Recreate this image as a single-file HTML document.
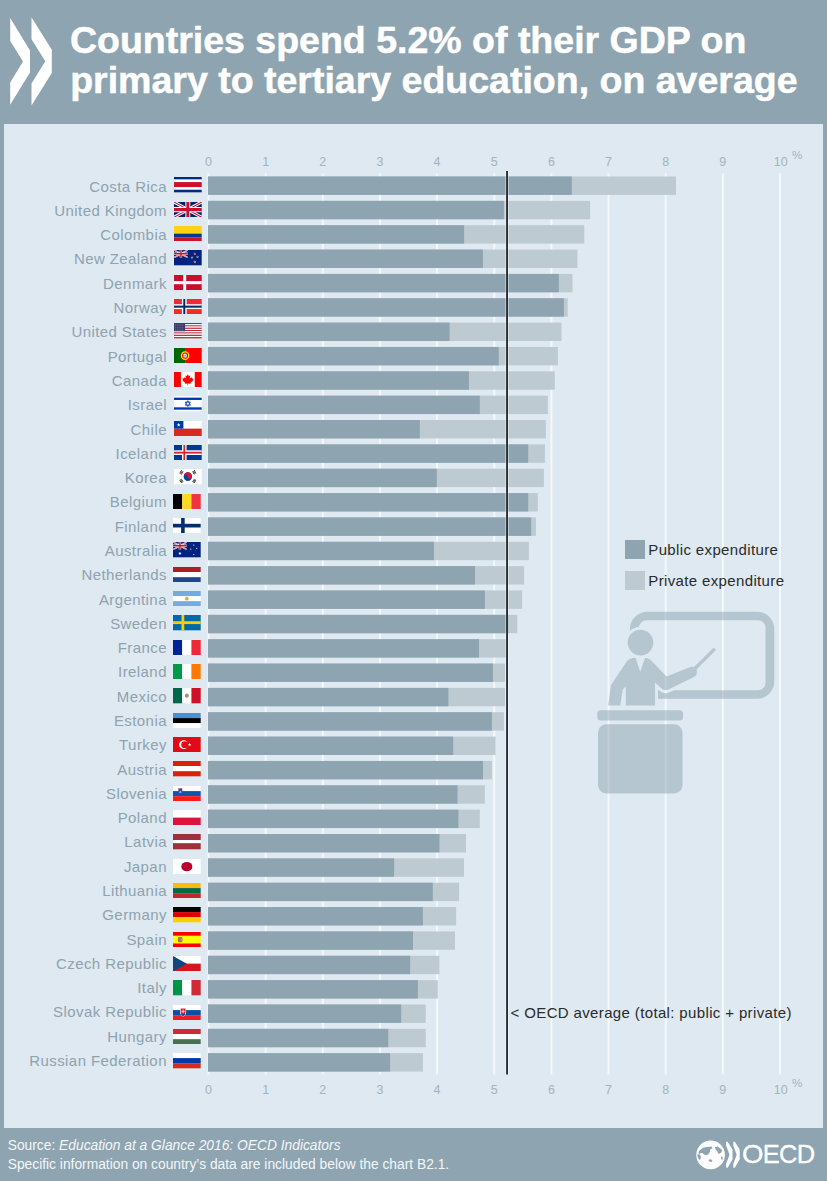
<!DOCTYPE html>
<html><head><meta charset="utf-8"><style>
*{margin:0;padding:0;box-sizing:border-box}
html,body{width:827px;height:1181px;overflow:hidden;background:#8ea4b1;font-family:"Liberation Sans",Arial,sans-serif}
#panel{position:absolute;left:4px;top:124.3px;width:818.5px;height:1003.3px;background:#dee9f1}
.l{position:absolute;right:660.1px;height:20px;line-height:20px;font-size:15px;letter-spacing:0.42px;color:#8fa2af;white-space:nowrap}
.f{position:absolute;left:174px;width:27.7px;height:15.3px}
.a{position:absolute;width:30px;text-align:center;font-size:12.5px;line-height:16px;color:#a2b3bf}
.t{position:absolute;left:69.5px;font-size:37.5px;font-weight:bold;color:#fff;white-space:nowrap;line-height:40px;-webkit-text-stroke:0.5px #fff}
.lg{position:absolute;left:624.8px;width:19.8px;height:19px}
.lt{position:absolute;left:648.3px;font-size:15px;letter-spacing:0.36px;color:#2b2b2b;white-space:nowrap;line-height:20px}
.ft{position:absolute;left:7.7px;font-size:13.8px;color:#f4f7f9;white-space:nowrap;line-height:18px}
</style></head><body>
<svg style="position:absolute;left:0;top:0" width="60" height="120"><path d="M10.2,18 L30,50.6 L30,72.6 L10.2,104.8 L10.2,82.4 L23,61.5 L10.2,40.9 Z M31.5,17.2 L51.8,49.8 L51.8,73 L31.5,105.6 L31.5,83.6 L45.3,61.2 L31.5,39.2 Z" fill="#fff"/></svg>
<div class="t" style="top:20.4px;left:69.9px">Countries spend 5.2% of their GDP on</div>
<div class="t" style="top:60.4px;left:70.2px">primary to tertiary education, on average</div>
<div id="panel"></div>
<svg style="position:absolute;left:0;top:0" width="827" height="1181"><g fill="#f5f9fb"><rect x="207.55" y="173.3" width="1.9" height="901.2"/><rect x="264.70" y="173.3" width="1.9" height="901.2"/><rect x="321.85" y="173.3" width="1.9" height="901.2"/><rect x="379.00" y="173.3" width="1.9" height="901.2"/><rect x="436.15" y="173.3" width="1.9" height="901.2"/><rect x="493.30" y="173.3" width="1.9" height="901.2"/><rect x="550.45" y="173.3" width="1.9" height="901.2"/><rect x="607.60" y="173.3" width="1.9" height="901.2"/><rect x="664.75" y="173.3" width="1.9" height="901.2"/><rect x="721.90" y="173.3" width="1.9" height="901.2"/><rect x="779.05" y="173.3" width="1.9" height="901.2"/></g></svg>
<svg style="position:absolute;left:590px;top:605px;opacity:0.5" width="200" height="200" viewBox="0 0 200 200">
 <defs>
  <mask id="mk"><rect width="200" height="200" fill="#fff"/>
   <g fill="#000" stroke="#000" stroke-width="6" stroke-linejoin="round"><circle cx="50.5" cy="37.6" r="12.8"/><use href="#body"/><rect x="30" y="40" width="20" height="25"/></g>
  </mask>
  <path id="body" d="M18.1,100.4 L21,80 L36.4,57.1 Q39,53.3 44.2,52.8 L45.6,53 L50.2,66.7 L55,53 L56.8,53 Q59.5,53.3 61.6,56.1 L76.6,71.6 L100.4,62 Q105.5,60.5 106.8,65.5 Q107.5,70.5 103.5,72.3 L78.5,84.6 Q75,86.2 72.2,84.1 L65,77.4 L65,100.4 L35.8,100.4 L35.8,81.2 L32.8,84.6 L30.2,100.4 Z"/>
 </defs>
 <g fill="#8ea4b1">
  <path mask="url(#mk)" fill-rule="evenodd" d="M57,6.8 L167,6.8 A17.3,17.3 0 0 1 184.3,24.1 L184.3,76.5 A17.3,17.3 0 0 1 167,93.8 L57,93.8 A17.3,17.3 0 0 1 39.9,76.5 L39.9,24.1 A17.3,17.3 0 0 1 57,6.8 Z M57,15.2 L168,15.2 A7.5,7.5 0 0 1 175.5,22.7 L175.5,77.8 A7.5,7.5 0 0 1 168,85.3 L57,85.3 A8.5,8.5 0 0 1 48.5,76.8 L48.5,23.7 A8.5,8.5 0 0 1 57,15.2 Z"/>
  <circle cx="50.5" cy="37.6" r="12.8"/>
  <use href="#body"/>
  <path d="M104,64.5 L123.8,44.7" stroke="#8ea4b1" stroke-width="3.4" stroke-linecap="round"/>
  <rect x="7.3" y="105.2" width="85.8" height="10.4" rx="3.5"/>
  <rect x="8" y="119.2" width="84.6" height="69.4" rx="8.5"/>
 </g>
</svg>
<svg style="position:absolute;left:0;top:0" width="827" height="1181"><rect x="208" y="176.50" width="468.00" height="18.4" fill="#bdcad1"/><rect x="208" y="176.50" width="363.80" height="18.4" fill="#8ea4b1"/><rect x="208" y="200.85" width="382.10" height="18.4" fill="#bdcad1"/><rect x="208" y="200.85" width="295.90" height="18.4" fill="#8ea4b1"/><rect x="208" y="225.20" width="376.30" height="18.4" fill="#bdcad1"/><rect x="208" y="225.20" width="256.10" height="18.4" fill="#8ea4b1"/><rect x="208" y="249.56" width="369.40" height="18.4" fill="#bdcad1"/><rect x="208" y="249.56" width="274.90" height="18.4" fill="#8ea4b1"/><rect x="208" y="273.91" width="364.50" height="18.4" fill="#bdcad1"/><rect x="208" y="273.91" width="350.80" height="18.4" fill="#8ea4b1"/><rect x="208" y="298.26" width="359.70" height="18.4" fill="#bdcad1"/><rect x="208" y="298.26" width="355.90" height="18.4" fill="#8ea4b1"/><rect x="208" y="322.61" width="353.50" height="18.4" fill="#bdcad1"/><rect x="208" y="322.61" width="241.60" height="18.4" fill="#8ea4b1"/><rect x="208" y="346.96" width="349.90" height="18.4" fill="#bdcad1"/><rect x="208" y="346.96" width="290.70" height="18.4" fill="#8ea4b1"/><rect x="208" y="371.32" width="346.80" height="18.4" fill="#bdcad1"/><rect x="208" y="371.32" width="260.90" height="18.4" fill="#8ea4b1"/><rect x="208" y="395.67" width="339.80" height="18.4" fill="#bdcad1"/><rect x="208" y="395.67" width="271.80" height="18.4" fill="#8ea4b1"/><rect x="208" y="420.02" width="337.80" height="18.4" fill="#bdcad1"/><rect x="208" y="420.02" width="211.80" height="18.4" fill="#8ea4b1"/><rect x="208" y="444.37" width="336.90" height="18.4" fill="#bdcad1"/><rect x="208" y="444.37" width="320.20" height="18.4" fill="#8ea4b1"/><rect x="208" y="468.72" width="335.90" height="18.4" fill="#bdcad1"/><rect x="208" y="468.72" width="228.80" height="18.4" fill="#8ea4b1"/><rect x="208" y="493.08" width="329.80" height="18.4" fill="#bdcad1"/><rect x="208" y="493.08" width="320.20" height="18.4" fill="#8ea4b1"/><rect x="208" y="517.43" width="327.90" height="18.4" fill="#bdcad1"/><rect x="208" y="517.43" width="323.10" height="18.4" fill="#8ea4b1"/><rect x="208" y="541.78" width="320.90" height="18.4" fill="#bdcad1"/><rect x="208" y="541.78" width="225.90" height="18.4" fill="#8ea4b1"/><rect x="208" y="566.13" width="316.10" height="18.4" fill="#bdcad1"/><rect x="208" y="566.13" width="267.00" height="18.4" fill="#8ea4b1"/><rect x="208" y="590.48" width="314.10" height="18.4" fill="#bdcad1"/><rect x="208" y="590.48" width="276.90" height="18.4" fill="#8ea4b1"/><rect x="208" y="614.84" width="309.30" height="18.4" fill="#bdcad1"/><rect x="208" y="614.84" width="301.00" height="18.4" fill="#8ea4b1"/><rect x="208" y="639.19" width="299.00" height="18.4" fill="#bdcad1"/><rect x="208" y="639.19" width="271.00" height="18.4" fill="#8ea4b1"/><rect x="208" y="663.54" width="297.10" height="18.4" fill="#bdcad1"/><rect x="208" y="663.54" width="284.90" height="18.4" fill="#8ea4b1"/><rect x="208" y="687.89" width="297.10" height="18.4" fill="#bdcad1"/><rect x="208" y="687.89" width="240.40" height="18.4" fill="#8ea4b1"/><rect x="208" y="712.24" width="295.90" height="18.4" fill="#bdcad1"/><rect x="208" y="712.24" width="283.90" height="18.4" fill="#8ea4b1"/><rect x="208" y="736.60" width="287.50" height="18.4" fill="#bdcad1"/><rect x="208" y="736.60" width="245.20" height="18.4" fill="#8ea4b1"/><rect x="208" y="760.95" width="283.90" height="18.4" fill="#bdcad1"/><rect x="208" y="760.95" width="275.00" height="18.4" fill="#8ea4b1"/><rect x="208" y="785.30" width="276.80" height="18.4" fill="#bdcad1"/><rect x="208" y="785.30" width="249.50" height="18.4" fill="#8ea4b1"/><rect x="208" y="809.65" width="271.80" height="18.4" fill="#bdcad1"/><rect x="208" y="809.65" width="250.40" height="18.4" fill="#8ea4b1"/><rect x="208" y="834.00" width="258.00" height="18.4" fill="#bdcad1"/><rect x="208" y="834.00" width="231.50" height="18.4" fill="#8ea4b1"/><rect x="208" y="858.36" width="256.00" height="18.4" fill="#bdcad1"/><rect x="208" y="858.36" width="186.10" height="18.4" fill="#8ea4b1"/><rect x="208" y="882.71" width="251.10" height="18.4" fill="#bdcad1"/><rect x="208" y="882.71" width="224.80" height="18.4" fill="#8ea4b1"/><rect x="208" y="907.06" width="248.10" height="18.4" fill="#bdcad1"/><rect x="208" y="907.06" width="214.90" height="18.4" fill="#8ea4b1"/><rect x="208" y="931.41" width="247.00" height="18.4" fill="#bdcad1"/><rect x="208" y="931.41" width="205.00" height="18.4" fill="#8ea4b1"/><rect x="208" y="955.76" width="231.40" height="18.4" fill="#bdcad1"/><rect x="208" y="955.76" width="202.10" height="18.4" fill="#8ea4b1"/><rect x="208" y="980.12" width="229.80" height="18.4" fill="#bdcad1"/><rect x="208" y="980.12" width="209.90" height="18.4" fill="#8ea4b1"/><rect x="208" y="1004.47" width="217.70" height="18.4" fill="#bdcad1"/><rect x="208" y="1004.47" width="193.20" height="18.4" fill="#8ea4b1"/><rect x="208" y="1028.82" width="217.70" height="18.4" fill="#bdcad1"/><rect x="208" y="1028.82" width="180.30" height="18.4" fill="#8ea4b1"/><rect x="208" y="1053.17" width="214.90" height="18.4" fill="#bdcad1"/><rect x="208" y="1053.17" width="182.10" height="18.4" fill="#8ea4b1"/><rect x="505.3" y="171" width="3.5" height="903.5" fill="#fff" opacity="0.5"/><rect x="506.1" y="171" width="1.9" height="903.5" fill="#2a2e31"/></svg>
<div class="a" style="left:193.50px;top:154px">0</div><div class="a" style="left:250.65px;top:154px">1</div><div class="a" style="left:307.80px;top:154px">2</div><div class="a" style="left:364.95px;top:154px">3</div><div class="a" style="left:422.10px;top:154px">4</div><div class="a" style="left:479.25px;top:154px">5</div><div class="a" style="left:536.40px;top:154px">6</div><div class="a" style="left:593.55px;top:154px">7</div><div class="a" style="left:650.70px;top:154px">8</div><div class="a" style="left:707.85px;top:154px">9</div><div class="a" style="left:765.80px;top:154px">10</div>
<div class="a" style="left:193.50px;top:1082px">0</div><div class="a" style="left:250.65px;top:1082px">1</div><div class="a" style="left:307.80px;top:1082px">2</div><div class="a" style="left:364.95px;top:1082px">3</div><div class="a" style="left:422.10px;top:1082px">4</div><div class="a" style="left:479.25px;top:1082px">5</div><div class="a" style="left:536.40px;top:1082px">6</div><div class="a" style="left:593.55px;top:1082px">7</div><div class="a" style="left:650.70px;top:1082px">8</div><div class="a" style="left:707.85px;top:1082px">9</div><div class="a" style="left:765.80px;top:1082px">10</div>
<div class="a" style="left:792px;top:147px;width:auto;text-align:left;font-size:11.5px">%</div>
<div class="a" style="left:792px;top:1074.5px;width:auto;text-align:left;font-size:11.5px">%</div>
<div class="l" style="top:176.60px">Costa Rica</div><div class="l" style="top:200.89px">United Kingdom</div><div class="l" style="top:225.18px">Colombia</div><div class="l" style="top:249.47px">New Zealand</div><div class="l" style="top:273.76px">Denmark</div><div class="l" style="top:298.06px">Norway</div><div class="l" style="top:322.35px">United States</div><div class="l" style="top:346.64px">Portugal</div><div class="l" style="top:370.93px">Canada</div><div class="l" style="top:395.22px">Israel</div><div class="l" style="top:419.51px">Chile</div><div class="l" style="top:443.80px">Iceland</div><div class="l" style="top:468.09px">Korea</div><div class="l" style="top:492.38px">Belgium</div><div class="l" style="top:516.67px">Finland</div><div class="l" style="top:540.97px">Australia</div><div class="l" style="top:565.26px">Netherlands</div><div class="l" style="top:589.55px">Argentina</div><div class="l" style="top:613.84px">Sweden</div><div class="l" style="top:638.13px">France</div><div class="l" style="top:662.42px">Ireland</div><div class="l" style="top:686.71px">Mexico</div><div class="l" style="top:711.00px">Estonia</div><div class="l" style="top:735.29px">Turkey</div><div class="l" style="top:759.58px">Austria</div><div class="l" style="top:783.88px">Slovenia</div><div class="l" style="top:808.17px">Poland</div><div class="l" style="top:832.46px">Latvia</div><div class="l" style="top:856.75px">Japan</div><div class="l" style="top:881.04px">Lithuania</div><div class="l" style="top:905.33px">Germany</div><div class="l" style="top:929.62px">Spain</div><div class="l" style="top:953.91px">Czech Republic</div><div class="l" style="top:978.20px">Italy</div><div class="l" style="top:1002.49px">Slovak Republic</div><div class="l" style="top:1026.79px">Hungary</div><div class="l" style="top:1051.08px">Russian Federation</div>
<svg class="f" style="top:177.45px;left:174.2px" viewBox="0 0 28 15" preserveAspectRatio="none"><rect x="0" y="0.000" width="28" height="2.520" fill="#002B7F"/><rect x="0" y="2.500" width="28" height="2.520" fill="#fff"/><rect x="0" y="5.000" width="28" height="5.020" fill="#CE1126"/><rect x="0" y="10.000" width="28" height="2.520" fill="#fff"/><rect x="0" y="12.500" width="28" height="2.520" fill="#002B7F"/></svg><svg class="f" style="top:201.78px;left:174.2px" viewBox="0 0 28 15" preserveAspectRatio="none"><rect width="28" height="15" fill="#012169"/><path d="M0,0L28,15M28,0L0,15" stroke="#fff" stroke-width="3.00"/><path d="M0,0L28,15M28,0L0,15" stroke="#C8102E" stroke-width="1.05"/><path d="M14.0,0V15M0,7.5H28" stroke="#fff" stroke-width="4.95"/><path d="M14.0,0V15M0,7.5H28" stroke="#C8102E" stroke-width="3.00"/></svg><svg class="f" style="top:226.11px;left:174.2px" viewBox="0 0 28 15" preserveAspectRatio="none"><rect x="0" y="0.000" width="28" height="7.520" fill="#FCD116"/><rect x="0" y="7.500" width="28" height="3.770" fill="#003893"/><rect x="0" y="11.250" width="28" height="3.770" fill="#CE1126"/></svg><svg class="f" style="top:250.44px;left:174.2px" viewBox="0 0 28 15" preserveAspectRatio="none"><rect width="28" height="15" fill="#00247D"/><svg x="0" y="0" width="14" height="7.5" viewBox="0 0 14 7.5" overflow="hidden"><rect width="14" height="7.5" fill="#00247D"/><path d="M0,0L14,7.5M14,0L0,7.5" stroke="#fff" stroke-width="1.50"/><path d="M0,0L14,7.5M14,0L0,7.5" stroke="#C8102E" stroke-width="0.53"/><path d="M7.0,0V7.5M0,3.75H14" stroke="#fff" stroke-width="2.48"/><path d="M7.0,0V7.5M0,3.75H14" stroke="#C8102E" stroke-width="1.50"/></svg><polygon points="21.00,2.30 21.35,3.31 22.43,3.34 21.57,3.99 21.88,5.01 21.00,4.40 20.12,5.01 20.43,3.99 19.57,3.34 20.65,3.31" fill="#fff"/><polygon points="18.30,5.80 18.65,6.81 19.73,6.84 18.87,7.49 19.18,8.51 18.30,7.90 17.42,8.51 17.73,7.49 16.87,6.84 17.95,6.81" fill="#fff"/><polygon points="23.80,5.30 24.15,6.31 25.23,6.34 24.37,6.99 24.68,8.01 23.80,7.40 22.92,8.01 23.23,6.99 22.37,6.34 23.45,6.31" fill="#fff"/><polygon points="21.00,10.20 21.38,11.28 22.52,11.31 21.61,12.00 21.94,13.09 21.00,12.44 20.06,13.09 20.39,12.00 19.48,11.31 20.62,11.28" fill="#fff"/><polygon points="21.00,2.80 21.24,3.48 21.95,3.49 21.38,3.92 21.59,4.61 21.00,4.20 20.41,4.61 20.62,3.92 20.05,3.49 20.76,3.48" fill="#CC142B"/><polygon points="18.30,6.30 18.54,6.98 19.25,6.99 18.68,7.42 18.89,8.11 18.30,7.70 17.71,8.11 17.92,7.42 17.35,6.99 18.06,6.98" fill="#CC142B"/><polygon points="23.80,5.80 24.04,6.48 24.75,6.49 24.18,6.92 24.39,7.61 23.80,7.20 23.21,7.61 23.42,6.92 22.85,6.49 23.56,6.48" fill="#CC142B"/><polygon points="21.00,10.70 21.26,11.44 22.05,11.46 21.42,11.94 21.65,12.69 21.00,12.24 20.35,12.69 20.58,11.94 19.95,11.46 20.74,11.44" fill="#CC142B"/></svg><svg class="f" style="top:274.77px;left:174.2px" viewBox="0 0 28 15" preserveAspectRatio="none"><rect width="28" height="15" fill="#C8102E"/><rect x="9.3" y="0" width="3" height="15" fill="#fff"/><rect x="0" y="6.0" width="28" height="3" fill="#fff"/></svg><svg class="f" style="top:299.10px;left:174.2px" viewBox="0 0 28 15" preserveAspectRatio="none"><rect width="28" height="15" fill="#EF2B2D"/><rect x="8.0" y="0" width="4.8" height="15" fill="#fff"/><rect x="0" y="5.1" width="28" height="4.8" fill="#fff"/><rect x="9.4" y="0" width="2" height="15" fill="#002868"/><rect x="0" y="6.5" width="28" height="2" fill="#002868"/></svg><svg class="f" style="top:323.42px;left:174.2px" viewBox="0 0 28 15" preserveAspectRatio="none"><rect x="0" y="0.000" width="28" height="1.174" fill="#B22234"/><rect x="0" y="1.154" width="28" height="1.174" fill="#fff"/><rect x="0" y="2.308" width="28" height="1.174" fill="#B22234"/><rect x="0" y="3.462" width="28" height="1.174" fill="#fff"/><rect x="0" y="4.615" width="28" height="1.174" fill="#B22234"/><rect x="0" y="5.769" width="28" height="1.174" fill="#fff"/><rect x="0" y="6.923" width="28" height="1.174" fill="#B22234"/><rect x="0" y="8.077" width="28" height="1.174" fill="#fff"/><rect x="0" y="9.231" width="28" height="1.174" fill="#B22234"/><rect x="0" y="10.385" width="28" height="1.174" fill="#fff"/><rect x="0" y="11.538" width="28" height="1.174" fill="#B22234"/><rect x="0" y="12.692" width="28" height="1.174" fill="#fff"/><rect x="0" y="13.846" width="28" height="1.174" fill="#B22234"/><rect x="0" y="0" width="11.2" height="8.08" fill="#3C3B6E"/><rect x="1.00" y="0.90" width="0.6" height="0.5" fill="#fff" opacity="0.6"/><rect x="2.90" y="0.90" width="0.6" height="0.5" fill="#fff" opacity="0.6"/><rect x="4.80" y="0.90" width="0.6" height="0.5" fill="#fff" opacity="0.6"/><rect x="6.70" y="0.90" width="0.6" height="0.5" fill="#fff" opacity="0.6"/><rect x="8.60" y="0.90" width="0.6" height="0.5" fill="#fff" opacity="0.6"/><rect x="1.00" y="2.50" width="0.6" height="0.5" fill="#fff" opacity="0.6"/><rect x="2.90" y="2.50" width="0.6" height="0.5" fill="#fff" opacity="0.6"/><rect x="4.80" y="2.50" width="0.6" height="0.5" fill="#fff" opacity="0.6"/><rect x="6.70" y="2.50" width="0.6" height="0.5" fill="#fff" opacity="0.6"/><rect x="8.60" y="2.50" width="0.6" height="0.5" fill="#fff" opacity="0.6"/><rect x="1.00" y="4.10" width="0.6" height="0.5" fill="#fff" opacity="0.6"/><rect x="2.90" y="4.10" width="0.6" height="0.5" fill="#fff" opacity="0.6"/><rect x="4.80" y="4.10" width="0.6" height="0.5" fill="#fff" opacity="0.6"/><rect x="6.70" y="4.10" width="0.6" height="0.5" fill="#fff" opacity="0.6"/><rect x="8.60" y="4.10" width="0.6" height="0.5" fill="#fff" opacity="0.6"/><rect x="1.00" y="5.70" width="0.6" height="0.5" fill="#fff" opacity="0.6"/><rect x="2.90" y="5.70" width="0.6" height="0.5" fill="#fff" opacity="0.6"/><rect x="4.80" y="5.70" width="0.6" height="0.5" fill="#fff" opacity="0.6"/><rect x="6.70" y="5.70" width="0.6" height="0.5" fill="#fff" opacity="0.6"/><rect x="8.60" y="5.70" width="0.6" height="0.5" fill="#fff" opacity="0.6"/><rect x="1.00" y="7.30" width="0.6" height="0.5" fill="#fff" opacity="0.6"/><rect x="2.90" y="7.30" width="0.6" height="0.5" fill="#fff" opacity="0.6"/><rect x="4.80" y="7.30" width="0.6" height="0.5" fill="#fff" opacity="0.6"/><rect x="6.70" y="7.30" width="0.6" height="0.5" fill="#fff" opacity="0.6"/><rect x="8.60" y="7.30" width="0.6" height="0.5" fill="#fff" opacity="0.6"/></svg><svg class="f" style="top:347.75px;left:174.2px" viewBox="0 0 28 15" preserveAspectRatio="none"><rect width="11.2" height="15" fill="#006600"/><rect x="11.2" width="16.8" height="15" fill="#FF0000"/><circle cx="11.2" cy="7.5" r="4.3" fill="#FFE000"/><circle cx="11.2" cy="7.5" r="3" fill="#FF0000"/><rect x="9.6" y="5.6" width="3.2" height="3.8" rx="0.9" fill="#fff"/><circle cx="11.2" cy="7.5" r="1.1" fill="#5fb4e6"/></svg><svg class="f" style="top:372.08px;left:174.2px" viewBox="0 0 28 15" preserveAspectRatio="none"><rect width="28" height="15" fill="#fff"/><rect width="7" height="15" fill="#FF0000"/><rect x="21" width="7" height="15" fill="#FF0000"/><path d="M14,2.2 L15,4 L16.4,3.4 L16,6.4 L17.8,5.2 L18.2,6.4 L19.6,6.2 L18.8,8 L19.4,8.4 L16.8,10.6 L17,11.6 L14.3,11.2 L14.3,13 L13.7,13 L13.7,11.2 L11,11.6 L11.2,10.6 L8.6,8.4 L9.2,8 L8.4,6.2 L9.8,6.4 L10.2,5.2 L12,6.4 L11.6,3.4 L13,4 Z" fill="#FF0000"/></svg><svg class="f" style="top:396.41px;left:174.2px" viewBox="0 0 28 15" preserveAspectRatio="none"><rect width="28" height="15" fill="#fff"/><rect y="1.6" width="28" height="2.3" fill="#0038B8"/><rect y="11.1" width="28" height="2.3" fill="#0038B8"/><path d="M14,4.6 L16.6,9 L11.4,9 Z M14,10.4 L11.4,6 L16.6,6 Z" fill="none" stroke="#0038B8" stroke-width="0.8"/></svg><svg class="f" style="top:420.74px;left:174.2px" viewBox="0 0 28 15" preserveAspectRatio="none"><rect width="28" height="7.5" fill="#fff"/><rect y="7.5" width="28" height="7.5" fill="#D52B1E"/><rect width="9.5" height="7.5" fill="#0039A6"/><polygon points="4.75,1.75 5.22,3.10 6.65,3.13 5.51,4.00 5.93,5.37 4.75,4.55 3.57,5.37 3.99,4.00 2.85,3.13 4.28,3.10" fill="#fff"/></svg><svg class="f" style="top:445.07px;left:174.2px" viewBox="0 0 28 15" preserveAspectRatio="none"><rect width="28" height="15" fill="#003897"/><rect x="8.100000000000001" y="0" width="4.6" height="15" fill="#fff"/><rect x="0" y="5.2" width="28" height="4.6" fill="#fff"/><rect x="9.5" y="0" width="1.8" height="15" fill="#DC1E35"/><rect x="0" y="6.6" width="28" height="1.8" fill="#DC1E35"/></svg><svg class="f" style="top:469.40px;left:174.2px" viewBox="0 0 28 15" preserveAspectRatio="none"><rect width="28" height="15" fill="#fff"/><circle cx="14" cy="7.5" r="4.2" fill="#0047A0"/><path d="M9.8,7.5 A4.2,4.2 0 0 1 18.2,7.5 A2.1,2.1 0 0 1 14,7.5 A2.1,2.1 0 0 0 9.8,7.5Z" fill="#E0102E"/><g transform="translate(7.5,3.3) rotate(-57)"><rect x="-1.8" y="-1.3" width="3.6" height="0.6" fill="#000"/><rect x="-1.8" y="-0.3" width="3.6" height="0.6" fill="#000"/><rect x="-1.8" y="0.7" width="3.6" height="0.6" fill="#000"/></g><g transform="translate(20.5,3.3) rotate(57)"><rect x="-1.8" y="-1.3" width="3.6" height="0.6" fill="#000"/><rect x="-1.8" y="-0.3" width="3.6" height="0.6" fill="#000"/><rect x="-1.8" y="0.7" width="3.6" height="0.6" fill="#000"/></g><g transform="translate(7.5,11.7) rotate(57)"><rect x="-1.8" y="-1.3" width="3.6" height="0.6" fill="#000"/><rect x="-1.8" y="-0.3" width="3.6" height="0.6" fill="#000"/><rect x="-1.8" y="0.7" width="3.6" height="0.6" fill="#000"/></g><g transform="translate(20.5,11.7) rotate(-57)"><rect x="-1.8" y="-1.3" width="3.6" height="0.6" fill="#000"/><rect x="-1.8" y="-0.3" width="3.6" height="0.6" fill="#000"/><rect x="-1.8" y="0.7" width="3.6" height="0.6" fill="#000"/></g></svg><svg class="f" style="top:493.73px;left:173.4px" viewBox="0 0 28 15" preserveAspectRatio="none"><rect x="0.000" y="0" width="9.353" height="15" fill="#000"/><rect x="9.333" y="0" width="9.353" height="15" fill="#FDDA24"/><rect x="18.667" y="0" width="9.353" height="15" fill="#EF3340"/></svg><svg class="f" style="top:518.06px;left:173.4px" viewBox="0 0 28 15" preserveAspectRatio="none"><rect width="28" height="15" fill="#fff"/><rect x="8.2" y="0" width="3.6" height="15" fill="#002F6C"/><rect x="0" y="5.7" width="28" height="3.6" fill="#002F6C"/></svg><svg class="f" style="top:542.38px;left:173.4px" viewBox="0 0 28 15" preserveAspectRatio="none"><rect width="28" height="15" fill="#00247D"/><svg x="0" y="0" width="14" height="7.5" viewBox="0 0 14 7.5" overflow="hidden"><rect width="14" height="7.5" fill="#00247D"/><path d="M0,0L14,7.5M14,0L0,7.5" stroke="#fff" stroke-width="1.50"/><path d="M0,0L14,7.5M14,0L0,7.5" stroke="#C8102E" stroke-width="0.53"/><path d="M7.0,0V7.5M0,3.75H14" stroke="#fff" stroke-width="2.48"/><path d="M7.0,0V7.5M0,3.75H14" stroke="#C8102E" stroke-width="1.50"/></svg><polygon points="7.00,9.70 7.35,10.58 8.25,10.30 7.78,11.12 8.56,11.66 7.63,11.80 7.69,12.74 7.00,12.10 6.31,12.74 6.37,11.80 5.44,11.66 6.22,11.12 5.75,10.30 6.65,10.58" fill="#fff"/><polygon points="21.00,2.10 21.16,2.68 21.70,2.44 21.35,2.92 21.88,3.20 21.28,3.22 21.39,3.81 21.00,3.36 20.61,3.81 20.72,3.22 20.12,3.20 20.65,2.92 20.30,2.44 20.84,2.68" fill="#fff"/><polygon points="18.00,6.10 18.16,6.68 18.70,6.44 18.35,6.92 18.88,7.20 18.28,7.22 18.39,7.81 18.00,7.36 17.61,7.81 17.72,7.22 17.12,7.20 17.65,6.92 17.30,6.44 17.84,6.68" fill="#fff"/><polygon points="24.00,5.30 24.16,5.88 24.70,5.64 24.35,6.12 24.88,6.40 24.28,6.42 24.39,7.01 24.00,6.56 23.61,7.01 23.72,6.42 23.12,6.40 23.65,6.12 23.30,5.64 23.84,5.88" fill="#fff"/><polygon points="21.00,11.40 21.16,11.98 21.70,11.74 21.35,12.22 21.88,12.50 21.28,12.52 21.39,13.11 21.00,12.66 20.61,13.11 20.72,12.52 20.12,12.50 20.65,12.22 20.30,11.74 20.84,11.98" fill="#fff"/><polygon points="22.50,8.00 22.62,8.34 22.98,8.35 22.69,8.56 22.79,8.90 22.50,8.70 22.21,8.90 22.31,8.56 22.02,8.35 22.38,8.34" fill="#fff"/></svg><svg class="f" style="top:566.71px;left:173.4px" viewBox="0 0 28 15" preserveAspectRatio="none"><rect x="0" y="0.000" width="28" height="5.020" fill="#AE1C28"/><rect x="0" y="5.000" width="28" height="5.020" fill="#fff"/><rect x="0" y="10.000" width="28" height="5.020" fill="#21468B"/></svg><svg class="f" style="top:591.04px;left:173.4px" viewBox="0 0 28 15" preserveAspectRatio="none"><rect x="0" y="0.000" width="28" height="5.020" fill="#74ACDF"/><rect x="0" y="5.000" width="28" height="5.020" fill="#fff"/><rect x="0" y="10.000" width="28" height="5.020" fill="#74ACDF"/><circle cx="14" cy="7.5" r="1.6" fill="#F6B40E" stroke="#85340A" stroke-width="0.2"/></svg><svg class="f" style="top:615.37px;left:173.4px" viewBox="0 0 28 15" preserveAspectRatio="none"><rect width="28" height="15" fill="#006AA7"/><rect x="8.6" y="0" width="2.8" height="15" fill="#FECC00"/><rect x="0" y="6.1" width="28" height="2.8" fill="#FECC00"/></svg><svg class="f" style="top:639.70px;left:173.4px" viewBox="0 0 28 15" preserveAspectRatio="none"><rect x="0.000" y="0" width="9.353" height="15" fill="#002395"/><rect x="9.333" y="0" width="9.353" height="15" fill="#fff"/><rect x="18.667" y="0" width="9.353" height="15" fill="#ED2939"/></svg><svg class="f" style="top:664.03px;left:173.4px" viewBox="0 0 28 15" preserveAspectRatio="none"><rect x="0.000" y="0" width="9.353" height="15" fill="#009A49"/><rect x="9.333" y="0" width="9.353" height="15" fill="#fff"/><rect x="18.667" y="0" width="9.353" height="15" fill="#FF7900"/></svg><svg class="f" style="top:688.36px;left:173.4px" viewBox="0 0 28 15" preserveAspectRatio="none"><rect x="0.000" y="0" width="9.353" height="15" fill="#006847"/><rect x="9.333" y="0" width="9.353" height="15" fill="#fff"/><rect x="18.667" y="0" width="9.353" height="15" fill="#CE1126"/><circle cx="14" cy="7.5" r="2" fill="#8c6a3c" opacity="0.75"/></svg><svg class="f" style="top:712.69px;left:173.4px" viewBox="0 0 28 15" preserveAspectRatio="none"><rect x="0" y="0.000" width="28" height="5.020" fill="#4891D9"/><rect x="0" y="5.000" width="28" height="5.020" fill="#000"/><rect x="0" y="10.000" width="28" height="5.020" fill="#fff"/></svg><svg class="f" style="top:737.02px;left:173.4px" viewBox="0 0 28 15" preserveAspectRatio="none"><rect width="28" height="15" fill="#E30A17"/><ellipse cx="10.8" cy="7.5" rx="4.6" ry="4.2" fill="#fff"/><ellipse cx="12" cy="7.5" rx="3.7" ry="3.4" fill="#E30A17"/><polygon points="16.80,5.70 17.22,6.92 18.51,6.94 17.48,7.72 17.86,8.96 16.80,8.22 15.74,8.96 16.12,7.72 15.09,6.94 16.38,6.92" fill="#fff"/></svg><svg class="f" style="top:761.35px;left:173.4px" viewBox="0 0 28 15" preserveAspectRatio="none"><rect x="0" y="0.000" width="28" height="5.020" fill="#DA2107"/><rect x="0" y="5.000" width="28" height="5.020" fill="#fff"/><rect x="0" y="10.000" width="28" height="5.020" fill="#DA2107"/></svg><svg class="f" style="top:785.67px;left:173.4px" viewBox="0 0 28 15" preserveAspectRatio="none"><rect x="0" y="0.000" width="28" height="5.020" fill="#fff"/><rect x="0" y="5.000" width="28" height="5.020" fill="#0B57B0"/><rect x="0" y="10.000" width="28" height="5.020" fill="#FF1A1A"/><path d="M5.6,2.5 h3.6 v3.2 q0,2 -1.8,2.8 q-1.8,-0.8 -1.8,-2.8z" fill="#005CE5" stroke="#FF0000" stroke-width="0.3"/><path d="M6.2,6.4 l1.2,-1.6 l1.2,1.6z" fill="#fff"/></svg><svg class="f" style="top:810.00px;left:173.4px" viewBox="0 0 28 15" preserveAspectRatio="none"><rect x="0" y="0.000" width="28" height="7.520" fill="#fff"/><rect x="0" y="7.500" width="28" height="7.520" fill="#DC143C"/></svg><svg class="f" style="top:834.33px;left:173.4px" viewBox="0 0 28 15" preserveAspectRatio="none"><rect x="0" y="0.000" width="28" height="6.020" fill="#9E3039"/><rect x="0" y="6.000" width="28" height="3.020" fill="#fff"/><rect x="0" y="9.000" width="28" height="6.020" fill="#9E3039"/></svg><svg class="f" style="top:858.66px;left:173.4px" viewBox="0 0 28 15" preserveAspectRatio="none"><rect width="28" height="15" fill="#fff"/><ellipse cx="14" cy="7.5" rx="5.6" ry="4.6" fill="#BC002D"/></svg><svg class="f" style="top:882.99px;left:173.4px" viewBox="0 0 28 15" preserveAspectRatio="none"><rect x="0" y="0.000" width="28" height="5.020" fill="#FDB913"/><rect x="0" y="5.000" width="28" height="5.020" fill="#006A44"/><rect x="0" y="10.000" width="28" height="5.020" fill="#C1272D"/></svg><svg class="f" style="top:907.32px;left:173.4px" viewBox="0 0 28 15" preserveAspectRatio="none"><rect x="0" y="0.000" width="28" height="5.020" fill="#000"/><rect x="0" y="5.000" width="28" height="5.020" fill="#DD0000"/><rect x="0" y="10.000" width="28" height="5.020" fill="#FFCE00"/></svg><svg class="f" style="top:931.65px;left:173.4px" viewBox="0 0 28 15" preserveAspectRatio="none"><rect x="0" y="0.000" width="28" height="3.770" fill="#FF0000"/><rect x="0" y="3.750" width="28" height="7.520" fill="#FFFF00"/><rect x="0" y="11.250" width="28" height="3.770" fill="#FF0000"/><rect x="5" y="5" width="4.5" height="5" rx="1" fill="#b0704a"/><circle cx="8.5" cy="7.4" r="1.2" fill="#c080d0"/></svg><svg class="f" style="top:955.98px;left:173.4px" viewBox="0 0 28 15" preserveAspectRatio="none"><rect x="0" y="0.000" width="28" height="7.520" fill="#fff"/><rect x="0" y="7.500" width="28" height="7.520" fill="#D7141A"/><path d="M0,0 L14,7.5 L0,15Z" fill="#11457E"/></svg><svg class="f" style="top:980.31px;left:173.4px" viewBox="0 0 28 15" preserveAspectRatio="none"><rect x="0.000" y="0" width="9.353" height="15" fill="#009246"/><rect x="9.333" y="0" width="9.353" height="15" fill="#fff"/><rect x="18.667" y="0" width="9.353" height="15" fill="#CE2B37"/></svg><svg class="f" style="top:1004.64px;left:173.4px" viewBox="0 0 28 15" preserveAspectRatio="none"><rect x="0" y="0.000" width="28" height="5.020" fill="#fff"/><rect x="0" y="5.000" width="28" height="5.020" fill="#0B4EA2"/><rect x="0" y="10.000" width="28" height="5.020" fill="#EE1C25"/><path d="M7.2,3 h6 v4.2 q0,3 -3,4.2 q-3,-1.2 -3,-4.2z" fill="#fff"/><path d="M7.8,3.5 h4.8 v3.8 q0,2.5 -2.4,3.5 q-2.4,-1 -2.4,-3.5z" fill="#EE1C25"/><path d="M9.8,4.5 h0.8 v5 h-0.8z M8.7,6 h3 v0.7 h-3z" fill="#fff"/><path d="M8,9 q2.2,-1.6 4.4,0 q-1,1.3 -2.2,1.8 q-1.2,-0.5 -2.2,-1.8z" fill="#0B4EA2"/></svg><svg class="f" style="top:1028.96px;left:173.4px" viewBox="0 0 28 15" preserveAspectRatio="none"><rect x="0" y="0.000" width="28" height="5.020" fill="#CE2939"/><rect x="0" y="5.000" width="28" height="5.020" fill="#fff"/><rect x="0" y="10.000" width="28" height="5.020" fill="#477050"/></svg><svg class="f" style="top:1053.29px;left:173.4px" viewBox="0 0 28 15" preserveAspectRatio="none"><rect x="0" y="0.000" width="28" height="5.020" fill="#fff"/><rect x="0" y="5.000" width="28" height="5.020" fill="#0039A6"/><rect x="0" y="10.000" width="28" height="5.020" fill="#D52B1E"/></svg>
<div class="lg" style="top:540.2px;background:#8ea4b1"></div>
<div class="lg" style="top:571px;background:#bdcad1"></div>
<div class="lt" style="top:540px">Public expenditure</div>
<div class="lt" style="top:571px">Private expenditure</div>
<div class="lt" style="left:510.6px;top:1003.3px">&lt; OECD average (total: public + private)</div>
<div class="ft" style="top:1137px">Source: <i>Education at a Glance 2016: OECD Indicators</i></div>
<div class="ft" style="top:1156px">Specific information on country’s data are included below the chart B2.1.</div>
<svg style="position:absolute;left:690px;top:1135px" width="60" height="40" viewBox="0 0 60 40">
 <circle cx="20.6" cy="19.9" r="14.3" fill="#fff"/>
 <g fill="#8ea4b1"><polygon points="9.4,15.6 13.1,12.7 16.7,12.0 21.8,11.6 22.1,13.4 20.3,14.5 19.6,17.4 18.1,19.6 16.3,20.3 14.2,19.6 12.3,18.1 10.9,18.1 9.1,18.9 8.3,17.4"/><polygon points="25.0,12.0 27.6,11.6 30.5,13.4 32.3,15.6 31.2,17.4 29.0,18.9 27.9,18.1 26.9,15.6 25.4,14.2"/><polygon points="7.3,19.6 9.4,19.2 10.9,21.0 10.5,24.0 9.4,25.0 8.3,23.2 7.6,21.8"/><polygon points="18.5,24.7 21.0,24.3 22.5,25.8 21.4,26.9 19.2,26.5"/><polygon points="30.8,21.4 32.3,21.8 33.0,24.0 31.9,25.0 31.2,23.2"/></g>
 <path d="M36.1,6.7 L37.6,6.7 L42.5,14.5 L42.5,24.5 L37.6,32.7 L36.1,32.7 L36.1,29 L39.5,19.7 L36.1,10.5 Z M43.3,6.7 L44.8,6.7 L49.7,14.5 L49.7,24.5 L44.8,32.7 L43.3,32.7 L43.3,29 L46.7,19.7 L43.3,10.5 Z" fill="#fff"/>
</svg>
<div style="position:absolute;left:742px;top:1139px;font-size:25.5px;line-height:30px;color:#fff;white-space:nowrap;-webkit-text-stroke:0.3px #fff"><span style="display:inline-block;transform:scaleX(1.09);transform-origin:0 0;margin-right:1.1px;letter-spacing:-0.3px">O</span><span style="letter-spacing:-0.7px">ECD</span></div>
</body></html>
